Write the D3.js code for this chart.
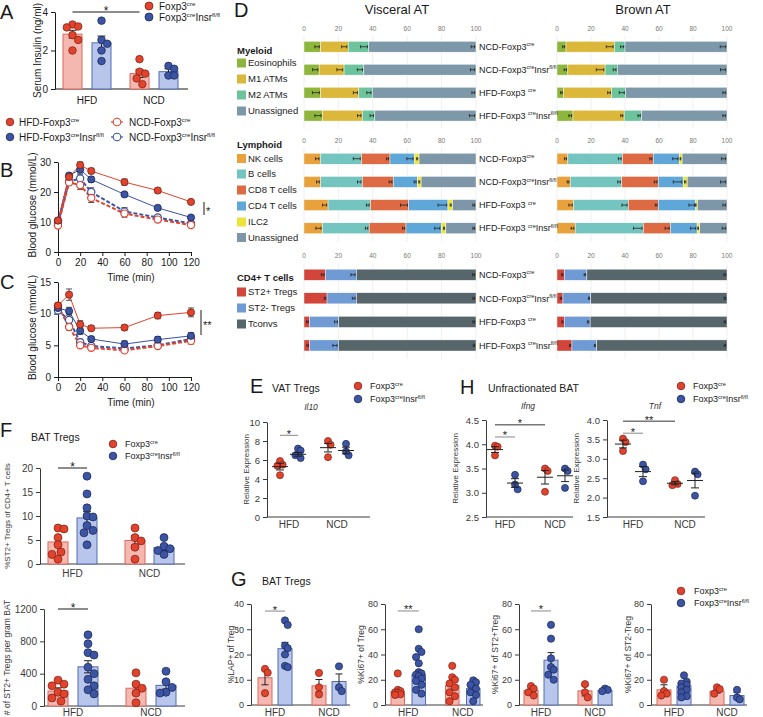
<!DOCTYPE html>
<html>
<head>
<meta charset="utf-8">
<script src="https://cdn.jsdelivr.net/npm/d3@7/dist/d3.min.js"></script>
<style>
html,body{margin:0;padding:0;background:#fff;}
svg{display:block;font-family:"Liberation Sans",Arial,Helvetica,sans-serif;}
</style>
</head>
<body>
<svg id="fig" width="763" height="717" viewBox="0 0 763 717"></svg>
<script>
// ================= DATA =================
const dietGroups = ["HFD", "NCD"];
const genotypes = ["cre", "Insr"];
const genoLabels = [[["Foxp3"], ["cre", 1]], [["Foxp3"], ["cre", 1], ["Insr"], ["fl/fl", 1]]];

// Panel A: serum insulin (ng/ml), [diet][genotype]
const insulinMean = [[2.85, 2.4], [0.8, 0.9]];
const insulinSem = [[0.2, 0.35], [0.2, 0.15]];
const insulinPoints = [
  [[3.35, 3.25, 3.2, 2.8, 2.55, 2.0], [3.55, 2.55, 2.35, 2.0, 1.45]],
  [[1.55, 0.9, 0.8, 0.55, 0.25], [1.2, 1.05, 0.7, 0.7]]
];

// Panels B / C: blood glucose curves
const timePoints = [0, 10, 20, 30, 60, 90, 120];
const timeTicks = [0, 20, 40, 60, 80, 100, 120];
const curveLabels = [
  [["HFD-Foxp3"], ["cre", 1]],
  [["HFD-Foxp3"], ["cre", 1], ["Insr"], ["fl/fl", 1]],
  [["NCD-Foxp3"], ["cre", 1]],
  [["NCD-Foxp3"], ["cre", 1], ["Insr"], ["fl/fl", 1]]
];
const gttMean = [
  [10.5, 25.0, 29.0, 27.0, 23.3, 20.5, 16.7],
  [10.5, 25.5, 27.5, 24.2, 19.2, 14.7, 11.5],
  [8.8, 23.2, 22.3, 18.0, 12.8, 10.8, 9.0],
  [9.5, 23.5, 24.5, 20.0, 13.5, 11.5, 9.5]
];
const gttSem = [
  [0.5, 0.8, 1.0, 0.9, 1.0, 0.8, 0.6],
  [0.5, 0.7, 1.2, 0.9, 0.6, 0.6, 0.5],
  [0.5, 0.9, 1.5, 1.5, 1.2, 0.9, 0.6],
  [0.5, 0.9, 1.4, 1.4, 1.3, 0.8, 0.5]
];
const ittMean = [
  [11.3, 13.0, 8.3, 7.7, 7.8, 9.7, 10.2],
  [10.9, 10.4, 7.3, 6.0, 5.2, 5.9, 6.5],
  [11.2, 7.9, 5.0, 4.6, 4.2, 4.9, 5.7],
  [10.5, 9.0, 5.5, 4.9, 4.5, 5.0, 6.0]
];
const ittSem = [
  [0.4, 0.9, 0.6, 0.4, 0.4, 0.5, 0.7],
  [0.4, 0.6, 0.6, 0.4, 0.5, 0.5, 0.5],
  [0.3, 0.5, 0.3, 0.3, 0.3, 0.3, 0.5],
  [0.3, 0.8, 0.5, 0.3, 0.3, 0.3, 0.5]
];

// Panel D: stacked composition (%), rows top->bottom
const dRowKeys = ["NCD-cre", "NCD-Insr", "HFD-cre", "HFD-Insr"];
const dRowLabels = [
  [["NCD-Foxp3"], ["cre", 1]],
  [["NCD-Foxp3"], ["cre", 1], ["Insr"], ["fl/fl", 1]],
  [["HFD-Foxp3 "], ["cre", 1]],
  [["HFD-Foxp3 "], ["cre", 1], ["Insr"], ["fl/fl", 1]]
];
const dTicks = [0, 20, 40, 60, 80, 100];
const myeloidNames = ["Eosinophils", "M1 ATMs", "M2 ATMs", "Unassigned"];
const visMyeloid = [[9.7, 16.0, 12.0, 62.3], [8.8, 14.5, 11.5, 65.2], [9.7, 22.2, 7.8, 60.3], [10.7, 23.2, 7.3, 58.8]];
const brnMyeloid = [[5.3, 28.5, 6.2, 60.0], [6.4, 21.9, 7.2, 64.5], [3.9, 28.3, 8.2, 59.6], [9.4, 30.1, 10.3, 50.2]];
const visMyeloidErr = [[1.3, 1.5, 2.0, 1.0], [1.5, 1.7, 1.5, 1.2], [2.0, 1.2, 1.2, 0.8], [1.8, 1.0, 1.0, 1.5]];
const brnMyeloidErr = [[0.6, 2.0, 0.9, 1.6], [0.7, 2.2, 0.8, 1.5], [0.5, 0.8, 1.5, 0.8], [0.8, 0.6, 0.7, 0.8]];
const lymphoidNames = ["NK cells", "B cells", "CD8 T cells", "CD4 T cells", "ILC2", "Unassigned"];
const visLymphoid = [[9.5, 24.0, 16.5, 14.2, 2.7, 33.1], [9.7, 24.2, 18.0, 14.1, 2.1, 31.9], [14.0, 24.7, 22.2, 22.8, 2.7, 13.6], [10.7, 27.2, 21.4, 20.5, 2.7, 17.5]];
const brnLymphoid = [[6.4, 32.1, 18.1, 15.3, 1.7, 26.4], [7.8, 30.3, 21.5, 14.6, 2.4, 23.4], [9.8, 32.2, 17.6, 22.0, 1.0, 17.4], [10.7, 40.1, 16.0, 15.6, 1.6, 16.0]];
const visLymphoidErr = [[1.0, 2.0, 0.6, 1.8, 0.3, 0], [0.8, 1.0, 0.8, 0.6, 0.3, 0], [1.2, 0.8, 2.0, 2.5, 0.3, 0.5], [1.5, 0.7, 0.6, 1.5, 0.3, 0.5]];
const brnLymphoidErr = [[0.6, 0.8, 0.6, 1.5, 0.2, 1.2], [0.5, 0.8, 0.8, 2.5, 0.4, 1.5], [1.0, 1.5, 0.5, 1.6, 0.2, 0.8], [0.8, 2.5, 1.2, 1.5, 0.2, 1.0]];
const cd4Names = ["ST2+ Tregs", "ST2- Tregs", "Tconvs"];
const visCd4 = [[12.5, 18.0, 69.5], [13.4, 17.1, 69.5], [3.3, 16.9, 79.8], [3.3, 16.7, 80.0]];
const brnCd4 = [[4.3, 13.3, 82.4], [3.5, 16.4, 80.1], [4.3, 15.2, 80.5], [8.8, 14.6, 76.6]];
const visCd4Err = [[0.8, 1.2, 0.6], [0.4, 0.8, 0.5], [0.5, 0.8, 0.5], [0.4, 1.2, 0.4]];
const brnCd4Err = [[0.4, 0.4, 0.5], [0.4, 0.3, 0.4], [0.3, 0.4, 0.4], [0.3, 0.3, 0.4]];

// Panel E: VAT Tregs Il10
const il10Mean = [[5.3, 6.6], [7.3, 7.0]];
const il10Sem = [[0.35, 0.2], [0.45, 0.35]];
const il10Points = [[[5.9, 5.5, 5.4, 4.4], [7.2, 7.0, 6.5, 6.2]], [[8.0, 7.6, 6.3], [7.7, 6.9, 6.5]]];

// Panel H: unfractionated BAT
const ifngMean = [[3.89, 3.2], [3.32, 3.35]];
const ifngSem = [[0.06, 0.09], [0.14, 0.12]];
const ifngPoints = [[[3.97, 3.95, 3.77], [3.37, 3.17, 3.07]], [[3.5, 3.45, 3.02], [3.5, 3.45, 3.1]]];
const tnfMean = [[3.38, 2.67], [2.37, 2.44]];
const tnfSem = [[0.1, 0.13], [0.04, 0.19]];
const tnfPoints = [[[3.52, 3.43, 3.2], [2.85, 2.73, 2.42]], [[2.45, 2.35, 2.32], [2.67, 2.6, 2.05]]];

// Panel F: BAT Tregs
const st2PctMean = [[4.6, 9.6], [4.9, 3.4]];
const st2PctSem = [[0.9, 1.3], [1.0, 0.6]];
const st2PctPoints = [
  [[7.3, 7.5, 5.5, 4.0, 2.5, 2.0, 1.0], [18.3, 14.6, 11.7, 10.0, 9.8, 8.0, 7.0, 6.5, 4.0]],
  [[7.5, 5.5, 4.8, 3.5, 1.0], [5.5, 3.7, 3.2, 2.8, 2.0]]
];
const st2NumMean = [[185, 485], [220, 255]];
const st2NumSem = [[40, 75], [65, 45]];
const st2NumPoints = [
  [[320, 270, 250, 170, 150, 100, 60], [880, 770, 660, 630, 480, 400, 330, 250, 200, 150]],
  [[410, 270, 220, 160, 40], [430, 300, 230, 170, 160]]
];

// Panel G: BAT Tregs
const lapMean = [[10.8, 22.3], [7.6, 9.3]];
const lapSem = [[2.8, 2.5], [2.5, 3.0]];
const lapPoints = [[[14.3, 12.8, 4.7], [33.5, 31.7, 23.5, 22.5, 20.0, 15.5, 15.0]], [[12.7, 7.0, 4.2], [15.3, 7.0, 5.5]]];
const ki67Mean = [[10.5, 24.0], [15.5, 13.0]];
const ki67Sem = [[1.8, 3.5], [3.0, 2.2]];
const ki67Points = [
  [[25, 12, 11, 10, 9.5, 8.5, 8], [60, 44.5, 42, 38, 33, 26, 25, 24, 23, 21, 19, 16, 12, 9]],
  [[31, 22, 20, 17, 14, 10, 7, 3], [19.5, 18, 16, 13, 10, 8, 3]]
];
const ki67st2pMean = [[11.5, 35.5], [11.2, 11.5]];
const ki67st2pSem = [[2.0, 6.0], [4.0, 1.5]];
const ki67st2pPoints = [[[15, 13, 10, 7.5], [63.5, 52.5, 37, 30, 28, 24, 20]], [[16.5, 10, 6], [13, 12, 11]]];
const ki67st2nMean = [[12.0, 15.0], [11.0, 7.5]];
const ki67st2nSem = [[4.0, 2.2], [1.5, 2.5]];
const ki67st2nPoints = [[[20, 11, 9, 7.5], [23.5, 18.5, 17, 16, 14, 12, 10, 7, 6]], [[14, 12.5, 9], [12, 6, 4.5]]];

// ================= STYLE / HELPERS =================
const FONT = '"Liberation Sans", Arial, Helvetica, sans-serif';
const svg = d3.select("#fig");
const COL = {
  red: "#e2432c", redEdge: "#7a2116", blue: "#3b54a4", blueEdge: "#1b2552",
  barRed: "#f4b8b1", barRedEdge: "#e0685b", barBlue: "#b7c6ea", barBlueEdge: "#546db5",
  ink: "#1a1a1a", grey: "#3a3a3a"
};
const ptFill = [COL.red, COL.blue], ptEdge = [COL.redEdge, COL.blueEdge];
const barFill = [COL.barRed, COL.barBlue], barEdge = [COL.barRedEdge, COL.barBlueEdge];

function richText(sel, parts, fs) {
  let up = false;
  parts.forEach(p => {
    const t = sel.append("tspan").text(p[0]);
    const isSup = p.length > 1 && p[1];
    if (isSup) {
      t.attr("font-size", (fs * 0.62).toFixed(2));
      if (!up) t.attr("dy", (-fs * 0.4).toFixed(2));
      up = true;
    } else {
      if (up) t.attr("dy", (fs * 0.4).toFixed(2));
      up = false;
    }
  });
  return sel;
}
function txt(x, y, s, o = {}) {
  const fs = o.fs || 10;
  const t = svg.append("text").attr("x", x).attr("y", y).attr("font-size", fs)
    .attr("fill", o.fill || COL.ink).attr("text-anchor", o.anchor || "start");
  if (o.weight) t.attr("font-weight", o.weight);
  if (o.style) t.attr("font-style", o.style);
  if (o.rotate) t.attr("transform", `rotate(-90 ${x} ${y})`);
  if (Array.isArray(s)) richText(t, s, fs); else t.text(s);
  return t;
}
function styleAxis(sel, fs, color) {
  sel.attr("font-family", FONT);
  sel.selectAll("text").attr("font-size", fs).attr("fill", color);
  sel.select(".domain").attr("stroke", color).attr("stroke-width", 1);
  sel.selectAll(".tick line").attr("stroke", color).attr("stroke-width", 1);
}
function genoLegend(x, y1, y2, fs, r, off) {
  [y1, y2].forEach((y, k) => {
    svg.append("circle").attr("cx", x).attr("cy", y).attr("r", r)
      .attr("fill", ptFill[k]).attr("stroke", ptEdge[k]).attr("stroke-width", 0.8);
    txt(x + off, y + fs * 0.36, genoLabels[k], { fs });
  });
}
function swarm(vals, y, r, maxOff) {
  const pts = vals.map(v => ({ v, py: y(v) })).sort((a, b) => a.py - b.py);
  const placed = [];
  const step = r * 0.75;
  const minD = 2 * r * 0.9;
  pts.forEach(p => {
    let chosen = null, bestScore = -1, bestOff = 0;
    for (let k = 0; k < 30; k++) {
      const off = (k % 2 === 1 ? 1 : -1) * Math.ceil(k / 2) * step;
      if (Math.abs(off) > maxOff + 0.01) continue;
      let md = Infinity;
      placed.forEach(q => { md = Math.min(md, Math.hypot(q.dx - off, q.py - p.py)); });
      if (md >= minD) { chosen = off; break; }
      if (md > bestScore) { bestScore = md; bestOff = off; }
    }
    p.dx = chosen === null ? bestOff : chosen;
    placed.push(p);
  });
  return placed;
}

// generic dot (+ bar) panel
function dotPanel(cfg) {
  const groupW = 2 * cfg.barW + cfg.gap;
  const x0 = d3.scaleBand().domain(dietGroups)
    .range([cfg.start, cfg.start + 2 * groupW + cfg.gg])
    .paddingInner(cfg.gg / (groupW + cfg.gg)).paddingOuter(0);
  const x1 = d3.scaleBand().domain(genotypes).range([0, groupW])
    .paddingInner(cfg.gap / (cfg.barW + cfg.gap)).paddingOuter(0);
  const y = d3.scaleLinear().domain(cfg.yDomain).range(cfg.yRange);
  const cx = (gi, k) => x0(dietGroups[gi]) + x1(genotypes[k]) + x1.bandwidth() / 2;
  const base = y(cfg.yDomain[0]);
  const axColor = cfg.axColor || COL.ink;

  const gy = svg.append("g").attr("transform", `translate(${cfg.axisX},0)`)
    .call(d3.axisLeft(y).tickValues(cfg.ticks).tickSize(4).tickSizeOuter(0)
      .tickFormat(cfg.fmt || d3.format("d")));
  styleAxis(gy, cfg.tickFs, axColor);
  svg.append("line").attr("x1", cfg.axisX).attr("x2", cfg.xEnd).attr("y1", base).attr("y2", base)
    .attr("stroke", axColor).attr("stroke-width", 1);
  dietGroups.forEach(gname => {
    txt(x0(gname) + groupW / 2, cfg.xLabY, gname, { fs: cfg.xLabFs, anchor: "middle", fill: axColor });
  });
  txt(cfg.yLabX, (cfg.yRange[0] + cfg.yRange[1]) / 2, cfg.yLabel, { fs: cfg.yLabFs, anchor: "middle", rotate: true, fill: axColor });

  const drawErr = (gi, k, capW) => {
    const m = cfg.mean[gi][k], e = cfg.sem[gi][k], xx = cx(gi, k);
    const g = svg.append("g").attr("stroke", cfg.errColor || "#222").attr("stroke-width", 1);
    g.append("line").attr("x1", xx).attr("x2", xx).attr("y1", y(m - e)).attr("y2", y(m + e));
    g.append("line").attr("x1", xx - capW / 2).attr("x2", xx + capW / 2).attr("y1", y(m + e)).attr("y2", y(m + e));
    g.append("line").attr("x1", xx - capW / 2).attr("x2", xx + capW / 2).attr("y1", y(m - e)).attr("y2", y(m - e));
  };
  const drawPts = (gi, k) => {
    const sw = swarm(cfg.points[gi][k], y, cfg.r, cfg.maxOff);
    sw.forEach(p => {
      svg.append("circle").attr("cx", cx(gi, k) + p.dx).attr("cy", p.py).attr("r", cfg.r)
        .attr("fill", ptFill[k]).attr("stroke", ptEdge[k]).attr("stroke-width", 0.7);
    });
  };

  dietGroups.forEach((gname, gi) => genotypes.forEach((gt, k) => {
    if (cfg.bars) {
      const m = cfg.mean[gi][k];
      svg.append("rect").attr("x", x0(gname) + x1(gt)).attr("width", x1.bandwidth())
        .attr("y", y(m)).attr("height", base - y(m))
        .attr("fill", barFill[k]).attr("stroke", barEdge[k]).attr("stroke-width", 1);
      drawErr(gi, k, cfg.capW);
      drawPts(gi, k);
    } else {
      drawPts(gi, k);
      const m = cfg.mean[gi][k], xx = cx(gi, k);
      svg.append("line").attr("x1", xx - cfg.meanW / 2).attr("x2", xx + cfg.meanW / 2)
        .attr("y1", y(m)).attr("y2", y(m)).attr("stroke", "#222").attr("stroke-width", 1);
      drawErr(gi, k, cfg.capW);
    }
  }));

  (cfg.sig || []).forEach(s => {
    const xa = cx(s.a[0], s.a[1]), xb = cx(s.b[0], s.b[1]), yy = y(s.v);
    svg.append("line").attr("x1", xa).attr("x2", xb).attr("y1", yy).attr("y2", yy)
      .attr("stroke", s.color || COL.ink).attr("stroke-width", 1);
    txt((xa + xb) / 2, yy + (s.dy || 3), s.label, { fs: s.fs || 11, anchor: "middle", fill: COL.ink });
  });
}

// ================= PANEL LETTERS & TITLES =================
const letters = [["A", 0, 19], ["B", 0, 177], ["C", 0, 289], ["D", 234, 17], ["E", 250, 393], ["F", 0, 437], ["G", 231, 586], ["H", 460, 394]];
letters.forEach(l => txt(l[1], l[2], l[0], { fs: 20 }));

// ================= PANEL A =================
dotPanel({
  start: 63, barW: 19, gap: 10, gg: 19, bars: true,
  yDomain: [0, 4], yRange: [89, 12], ticks: [0, 2, 4], axisX: 55, xEnd: 188,
  tickFs: 10, xLabY: 104, xLabFs: 10, yLabel: "Serum Insulin (ng/ml)", yLabX: 41, yLabFs: 10,
  mean: insulinMean, sem: insulinSem, points: insulinPoints, r: 3.8, maxOff: 7, capW: 8,
  sig: [{ a: [0, 0], b: [1, 0], v: 4.0, label: "*", fs: 12, dy: 2.5 }]
});
genoLegend(149, 6, 17, 10, 4, 10);

// ================= PANELS B / C =================
const seriesColor = [COL.red, COL.blue, COL.red, COL.blue];
const seriesEdge = [COL.redEdge, COL.blueEdge, COL.red, COL.blue];
const seriesOpen = [false, false, true, true];

function curvePanel(cfg) {
  const x = d3.scaleLinear().domain([0, 120]).range([58, 191]);
  const y = d3.scaleLinear().domain(cfg.yDomain).range(cfg.yRange);
  const gx = svg.append("g").attr("transform", `translate(0,${cfg.yRange[0]})`)
    .call(d3.axisBottom(x).tickValues(timeTicks).tickSize(4).tickSizeOuter(0));
  styleAxis(gx, 10, COL.ink);
  const gy = svg.append("g").attr("transform", `translate(58,0)`)
    .call(d3.axisLeft(y).tickValues(cfg.yTicks).tickSize(4).tickSizeOuter(0));
  styleAxis(gy, 10, COL.ink);
  txt(131, cfg.yRange[0] + 29, "Time (min)", { fs: 10, anchor: "middle" });
  txt(36, (cfg.yRange[0] + cfg.yRange[1]) / 2 - 2, "Blood glucose (mmol/L)", { fs: 10, anchor: "middle", rotate: true });
  const order = [3, 2, 1, 0];
  const line = d3.line().x((d, i) => x(timePoints[i])).y(d => y(d));
  order.forEach(s => {
    svg.append("path").attr("d", line(cfg.mean[s])).attr("fill", "none")
      .attr("stroke", seriesColor[s]).attr("stroke-width", seriesOpen[s] ? 2 : 1)
      .attr("stroke-dasharray", seriesOpen[s] ? "4,2" : null);
  });
  order.forEach(s => {
    cfg.mean[s].forEach((m, i) => {
      const e = cfg.sem[s][i], xx = x(timePoints[i]);
      const g = svg.append("g").attr("stroke", "#555").attr("stroke-width", 1);
      g.append("line").attr("x1", xx).attr("x2", xx).attr("y1", y(m - e)).attr("y2", y(m + e));
      g.append("line").attr("x1", xx - 3).attr("x2", xx + 3).attr("y1", y(m + e)).attr("y2", y(m + e));
      g.append("line").attr("x1", xx - 3).attr("x2", xx + 3).attr("y1", y(m - e)).attr("y2", y(m - e));
    });
  });
  order.forEach(s => {
    cfg.mean[s].forEach((m, i) => {
      svg.append("circle").attr("cx", x(timePoints[i])).attr("cy", y(m)).attr("r", 3.6)
        .attr("fill", seriesOpen[s] ? "#fff" : seriesColor[s])
        .attr("stroke", seriesEdge[s]).attr("stroke-width", seriesOpen[s] ? 1.2 : 0.8);
    });
  });
  svg.append("line").attr("x1", cfg.sigX).attr("x2", cfg.sigX).attr("y1", cfg.sigY[0]).attr("y2", cfg.sigY[1])
    .attr("stroke", COL.ink).attr("stroke-width", 1);
  txt(cfg.sigX + 2, (cfg.sigY[0] + cfg.sigY[1]) / 2 + 6, cfg.sigLabel, { fs: 11 });
}
curvePanel({ yDomain: [0, 30], yRange: [252, 162], yTicks: [0, 10, 20, 30], mean: gttMean, sem: gttSem,
  sigX: 204, sigY: [202, 215], sigLabel: "*" });
curvePanel({ yDomain: [0, 15], yRange: [377, 282], yTicks: [0, 5, 10, 15], mean: ittMean, sem: ittSem,
  sigX: 201, sigY: [310, 335], sigLabel: "**" });

// B/C legend
[[10, 122, 0], [10, 137, 1], [117, 122, 2], [117, 137, 3]].forEach(([lx, ly, s]) => {
  if (seriesOpen[s]) {
    svg.append("line").attr("x1", lx - 6).attr("x2", lx + 6).attr("y1", ly).attr("y2", ly)
      .attr("stroke", seriesColor[s]).attr("stroke-width", 1.2);
  }
  svg.append("circle").attr("cx", lx).attr("cy", ly).attr("r", 3.8)
    .attr("fill", seriesOpen[s] ? "#fff" : seriesColor[s]).attr("stroke", seriesEdge[s])
    .attr("stroke-width", seriesOpen[s] ? 1.1 : 0.8);
  txt(lx + (seriesOpen[s] ? 12 : 9), ly + 3.6, curveLabels[s], { fs: 10 });
});

// ================= PANEL D =================
txt(397, 14, "Visceral AT", { fs: 13, anchor: "middle" });
txt(643, 14, "Brown AT", { fs: 13, anchor: "middle" });
const visX = d3.scaleLinear().domain([0, 100]).range([304, 476]);
const brnX = d3.scaleLinear().domain([0, 100]).range([557, 727]);

function stackSection(sec) {
  const step = sec.step;
  const y = d3.scaleBand().domain(dRowKeys).range([sec.top, sec.top + 4 * step])
    .paddingInner(0.53).paddingOuter(0.25);
  [[visX, sec.vis, sec.visErr], [brnX, sec.brn, sec.brnErr]].forEach(([x, data, err]) => {
    svg.append("g").selectAll("line").data(dTicks).join("line")
      .attr("x1", d => x(d)).attr("x2", d => x(d)).attr("y1", sec.top).attr("y2", sec.top + 4 * step + 2)
      .attr("stroke", "#ebebeb").attr("stroke-width", 0.8);
    svg.append("g").selectAll("text").data(dTicks).join("text")
      .attr("x", d => x(d)).attr("y", sec.top - 5).attr("text-anchor", "middle")
      .attr("font-size", 6.5).attr("fill", "#777").text(d => d);
    const rows = data.map(r => Object.fromEntries(sec.names.map((n, i) => [n, r[i]])));
    const stacked = d3.stack().keys(sec.names)(rows);
    stacked.forEach((layer, li) => {
      layer.forEach((seg, ri) => {
        svg.append("rect").attr("x", x(seg[0])).attr("width", x(seg[1]) - x(seg[0]))
          .attr("y", y(dRowKeys[ri])).attr("height", y.bandwidth())
          .attr("fill", sec.colors[li]).attr("stroke", "#fff").attr("stroke-width", 0.4);
      });
    });
    stacked.forEach((layer, li) => {
      layer.forEach((seg, ri) => {
        const e = err[ri][li];
        if (!e) return;
        const xa = x(seg[1] - 0.8 - 2 * e), xb = x(seg[1] - 0.8);
        const yc = y(dRowKeys[ri]) + y.bandwidth() / 2;
        const g = svg.append("g").attr("stroke", "#222").attr("stroke-width", 0.8);
        g.append("line").attr("x1", xa).attr("x2", xb).attr("y1", yc).attr("y2", yc);
        g.append("line").attr("x1", xa).attr("x2", xa).attr("y1", yc - 1.6).attr("y2", yc + 1.6);
        g.append("line").attr("x1", xb).attr("x2", xb).attr("y1", yc - 1.6).attr("y2", yc + 1.6);
      });
    });
  });
  dRowKeys.forEach((k, ri) => {
    txt(479, y(k) + y.bandwidth() / 2 + 3.2, dRowLabels[ri], { fs: 9 });
  });
  txt(237, sec.headerY, sec.header, { fs: 9.5, weight: "bold" });
  sec.names.forEach((n, i) => {
    const cy = sec.itemY[i];
    svg.append("rect").attr("x", 237).attr("y", cy - 4.5).attr("width", 9).attr("height", 9).attr("fill", sec.colors[i]);
    txt(248, cy + 3.4, n, { fs: 9.5, fill: "#222" });
  });
}
stackSection({
  top: 35.6, step: 22.8, vis: visMyeloid, brn: brnMyeloid, visErr: visMyeloidErr, brnErr: brnMyeloidErr,
  names: myeloidNames, colors: ["#8fb63c", "#dcb83a", "#6cc39c", "#7d99a9"],
  header: "Myeloid", headerY: 54, itemY: [63, 79, 95, 111]
});
stackSection({
  top: 147.5, step: 23, vis: visLymphoid, brn: brnLymphoid, visErr: visLymphoidErr, brnErr: brnLymphoidErr,
  names: lymphoidNames, colors: ["#e9a13b", "#74c4bf", "#de6a43", "#5ea7d8", "#ece43a", "#7d97a8"],
  header: "Lymphoid", headerY: 148, itemY: [158.5, 174, 190, 206, 222, 237.5]
});
stackSection({
  top: 263.3, step: 23.4, vis: visCd4, brn: brnCd4, visErr: visCd4Err, brnErr: brnCd4Err,
  names: cd4Names, colors: ["#d2453b", "#6f9ad4", "#56666a"],
  header: "CD4+ T cells", headerY: 281, itemY: [292, 308, 324]
});

// ================= PANEL E =================
txt(272, 392, "VAT Tregs", { fs: 10.5 });
txt(311, 410, "Il10", { fs: 8.5, anchor: "middle", style: "italic", fill: "#333" });
genoLegend(358, 386, 399, 9, 3.8, 12);
dotPanel({
  start: 273, barW: 14, gap: 4, gg: 16, bars: false,
  yDomain: [0, 10], yRange: [517, 422], ticks: [0, 2, 4, 6, 8, 10], axisX: 267, xEnd: 370,
  tickFs: 9.5, xLabY: 528, xLabFs: 10, yLabel: "Relative Expression", yLabX: 249, yLabFs: 8, axColor: COL.grey,
  mean: il10Mean, sem: il10Sem, points: il10Points, r: 3.5, maxOff: 5, capW: 8, meanW: 16,
  sig: [{ a: [0, 0], b: [0, 1], v: 8.6, label: "*", color: "#888", fs: 11, dy: 2.5 }]
});

// ================= PANEL H =================
txt(488, 392, "Unfractionated BAT", { fs: 10.5 });
txt(528, 409, "Ifng", { fs: 8.5, anchor: "middle", style: "italic", fill: "#333" });
txt(655, 409, "Tnf", { fs: 8.5, anchor: "middle", style: "italic", fill: "#333" });
genoLegend(681, 386, 399, 9, 3.8, 12);
dotPanel({
  start: 488, barW: 14, gap: 6, gg: 16, bars: false,
  yDomain: [2.5, 4.5], yRange: [517, 420], ticks: [2.5, 3.0, 3.5, 4.0, 4.5], fmt: d3.format(".1f"),
  axisX: 486, xEnd: 573, tickFs: 9.5, xLabY: 528, xLabFs: 10, yLabel: "Relative Expression", yLabX: 458, yLabFs: 8,
  axColor: COL.grey, mean: ifngMean, sem: ifngSem, points: ifngPoints, r: 3.5, maxOff: 5, capW: 8, meanW: 16,
  sig: [{ a: [0, 0], b: [0, 1], v: 4.15, label: "*", color: "#888", fs: 11, dy: 2.5 },
        { a: [0, 0], b: [1, 0], v: 4.4, label: "*", color: "#333", fs: 11, dy: 2.5 }]
});
dotPanel({
  start: 616, barW: 14, gap: 6, gg: 18, bars: false,
  yDomain: [1.5, 4.0], yRange: [517, 420], ticks: [1.5, 2.0, 2.5, 3.0, 3.5, 4.0], fmt: d3.format(".1f"),
  axisX: 607, xEnd: 705, tickFs: 9.5, xLabY: 528, xLabFs: 10, yLabel: "Relative Expression", yLabX: 579, yLabFs: 8,
  axColor: COL.grey, mean: tnfMean, sem: tnfSem, points: tnfPoints, r: 3.5, maxOff: 5, capW: 8, meanW: 16,
  sig: [{ a: [0, 0], b: [1, 0], v: 3.97, label: "**", color: "#333", fs: 11, dy: 2.5 },
        { a: [0, 0], b: [0, 1], v: 3.66, label: "*", color: "#888", fs: 11, dy: 2.5 }]
});

// ================= PANEL F =================
txt(31, 441, "BAT Tregs", { fs: 10.5 });
genoLegend(113, 444, 456, 9, 3.8, 12);
dotPanel({
  start: 48, barW: 20, gap: 9, gg: 28, bars: true,
  yDomain: [0, 20], yRange: [564, 468], ticks: [0, 5, 10, 15, 20], axisX: 40, xEnd: 185,
  tickFs: 10, xLabY: 577, xLabFs: 10, yLabel: "%ST2+ Tregs of CD4+ T cells", yLabX: 10, yLabFs: 8, axColor: COL.grey,
  mean: st2PctMean, sem: st2PctSem, points: st2PctPoints, r: 4, maxOff: 7, capW: 8,
  sig: [{ a: [0, 0], b: [0, 1], v: 20, label: "*", fs: 12, dy: 2.5 }]
});
dotPanel({
  start: 48, barW: 20, gap: 10, gg: 28, bars: true,
  yDomain: [0, 1200], yRange: [706, 609], ticks: [0, 400, 800, 1200], axisX: 44, xEnd: 185,
  tickFs: 10, xLabY: 716, xLabFs: 10, yLabel: "# of ST2+ Tregs per gram BAT", yLabX: 10, yLabFs: 8.5, axColor: COL.grey,
  mean: st2NumMean, sem: st2NumSem, points: st2NumPoints, r: 4, maxOff: 7, capW: 8,
  sig: [{ a: [0, 0], b: [0, 1], v: 1200, label: "*", fs: 12, dy: 2.5 }]
});

// ================= PANEL G =================
txt(262, 585, "BAT Tregs", { fs: 10.5 });
genoLegend(681, 591, 603, 9, 3.8, 13);
const gCommon = { bars: true, yRange: [705, 604], tickFs: 9, xLabY: 716, xLabFs: 10, yLabFs: 8.5,
  axColor: COL.grey, r: 3.6, maxOff: 5, capW: 7 };
dotPanel(Object.assign({}, gCommon, {
  start: 258, barW: 14, gap: 6, gg: 20, yDomain: [0, 40], ticks: [0, 10, 20, 30, 40], axisX: 251, xEnd: 350,
  yLabel: "%LAP+ of Treg", yLabX: 234, mean: lapMean, sem: lapSem, points: lapPoints,
  sig: [{ a: [0, 0], b: [0, 1], v: 37.2, label: "*", color: "#888", fs: 11, dy: 2.5 }]
}));
dotPanel(Object.assign({}, gCommon, {
  start: 391, barW: 13.5, gap: 7.5, gg: 20, yDomain: [0, 80], ticks: [0, 20, 40, 60, 80], axisX: 385, xEnd: 483,
  yLabel: "%Ki67+ of Treg", yLabX: 364, mean: ki67Mean, sem: ki67Sem, points: ki67Points,
  sig: [{ a: [0, 0], b: [0, 1], v: 74.5, label: "**", color: "#888", fs: 11, dy: 2.5 }]
}));
dotPanel(Object.assign({}, gCommon, {
  start: 524, barW: 14, gap: 6, gg: 20, yDomain: [0, 80], ticks: [0, 20, 40, 60, 80], axisX: 519, xEnd: 613,
  yLabel: "%Ki67+ of ST2+Treg", yLabX: 498, mean: ki67st2pMean, sem: ki67st2pSem, points: ki67st2pPoints,
  sig: [{ a: [0, 0], b: [0, 1], v: 74.5, label: "*", color: "#888", fs: 11, dy: 2.5 }]
}));
dotPanel(Object.assign({}, gCommon, {
  start: 657, barW: 14, gap: 6, gg: 19, yDomain: [0, 80], ticks: [0, 20, 40, 60, 80], axisX: 651, xEnd: 747,
  yLabel: "%Ki67+ of ST2-Treg", yLabX: 631, mean: ki67st2nMean, sem: ki67st2nSem, points: ki67st2nPoints
}));
</script>
</body>
</html>
